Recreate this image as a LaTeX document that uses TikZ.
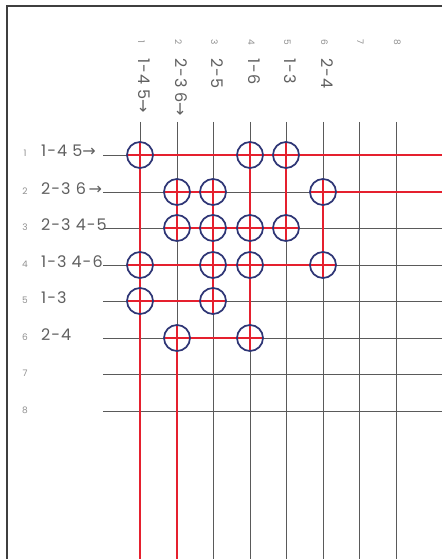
\documentclass[tikz,border=0pt]{standalone}
\usepackage{fontspec}
\setmainfont{Poppins}
\newfontfamily\pairfont[LetterSpace=6]{Poppins}
\newfontfamily\arrowfont{DejaVu Sans}
\usetikzlibrary{calc}
\definecolor{gridgrey}{HTML}{5A5A5A}
\definecolor{wirered}{HTML}{E5202E}
\definecolor{ringblue}{HTML}{2E3575}
\definecolor{labelgrey}{HTML}{606060}
\tikzset{
    frame/.style={line width=1.4pt, gridgrey!70!black},
    gridline/.style={line width=0.9pt, gridgrey},
    wire/.style={line width=1.8pt, wirered},
    ring/.style={circle, draw=ringblue, line width=1.7pt, minimum size=26pt, inner sep=0pt},
    index/.style={font=\fontsize{9}{9}\selectfont, text=labelgrey!70, inner sep=0pt},
    pairs/.style={font=\pairfont\fontsize{16}{16}\selectfont, text=labelgrey, inner sep=0pt}
}
\newcommand{\ra}{{\arrowfont\char"2192}}

\begin{document}
\begin{tikzpicture}[x=1pt, y=-1pt]
    \useasboundingbox (0,0) rectangle (442,559);
    \fill[white] (0,0) rectangle (442,559);
    \draw[frame] (442,6) -- (7,6) -- (7,559);

    % grid points
    \foreach \r in {1,...,8} {
        \foreach \c in {1,...,8} {
            \coordinate (g-\r-\c) at ({round(140+36.5*(\c-1))}, {round(155+36.5*(\r-1))});
        }
        \coordinate (w-\r) at (103, {round(155+36.5*(\r-1))});
        \coordinate (e-\r) at (442, {round(155+36.5*(\r-1))});
        \coordinate (t-\r) at ({round(140+36.5*(\r-1))}, 122);
        \coordinate (b-\r) at ({round(140+36.5*(\r-1))}, 559);
        \draw[gridline] (w-\r) -- (e-\r);
        \draw[gridline] (t-\r) -- (b-\r);
    }

    % labels
    \foreach \r/\txt in {1/{1-4 5\ra}, 2/{2-3 6\,\ra}, 3/{2-3 4-5}, 4/{1-3 4-6},
                         5/{1-3}, 6/{2-4}, 7/{}, 8/{}} {
        \node[index, anchor=base] (ri-\r) at ($(w-\r)+(-78,2)$) {\r};
        \node[pairs, anchor=base west] (rl-\r) at ($(w-\r)+(-62,2)$) {\txt};
    }
    \foreach \c/\txt in {1/{1-4 5\ra}, 2/{2-3 6\ra}, 3/{2-5}, 4/{1-6},
                         5/{1-3}, 6/{2-4}, 7/{}, 8/{}} {
        \node[index, rotate=-90, anchor=base] (ci-\c) at ($(t-\c)+(-2,-80)$) {\c};
        \node[pairs, rotate=-90, anchor=base west] (cl-\c) at ($(t-\c)+(-2,-64)$) {\txt};
    }

    % rows
    \draw[wire] (g-1-1) -- (e-1);
    \draw[wire] (g-2-2) -- (g-2-3);
    \draw[wire] (g-2-6) -- (e-2);
    \draw[wire] (g-3-2) -- (g-3-5);
    \draw[wire] (g-4-1) -- (g-4-6);
    \draw[wire] (g-5-1) -- (g-5-3);
    \draw[wire] (g-6-2) -- (g-6-4);
    % columns
    \draw[wire] (g-1-1) -- (b-1);
    \draw[wire] (g-2-2) -- (g-3-2);
    \draw[wire] (g-6-2) -- (b-2);
    \draw[wire] (g-2-3) -- (g-5-3);
    \draw[wire] (g-1-4) -- (g-6-4);
    \draw[wire] (g-1-5) -- (g-3-5);
    \draw[wire] (g-2-6) -- (g-4-6);

    % crossings
    \foreach \r/\c in {1/1,1/4,1/5,2/2,2/3,2/6,3/2,3/3,3/4,3/5,
                       4/1,4/3,4/4,4/6,5/1,5/3,6/2,6/4} {
        \draw[wire] ($(g-\r-\c)+(-12,0)$) -- ($(g-\r-\c)+(12,0)$);
        \draw[wire] ($(g-\r-\c)+(0,-12)$) -- ($(g-\r-\c)+(0,12)$);
        \node[ring] (h-\r-\c) at (g-\r-\c) {};
    }
\end{tikzpicture}
\end{document}
